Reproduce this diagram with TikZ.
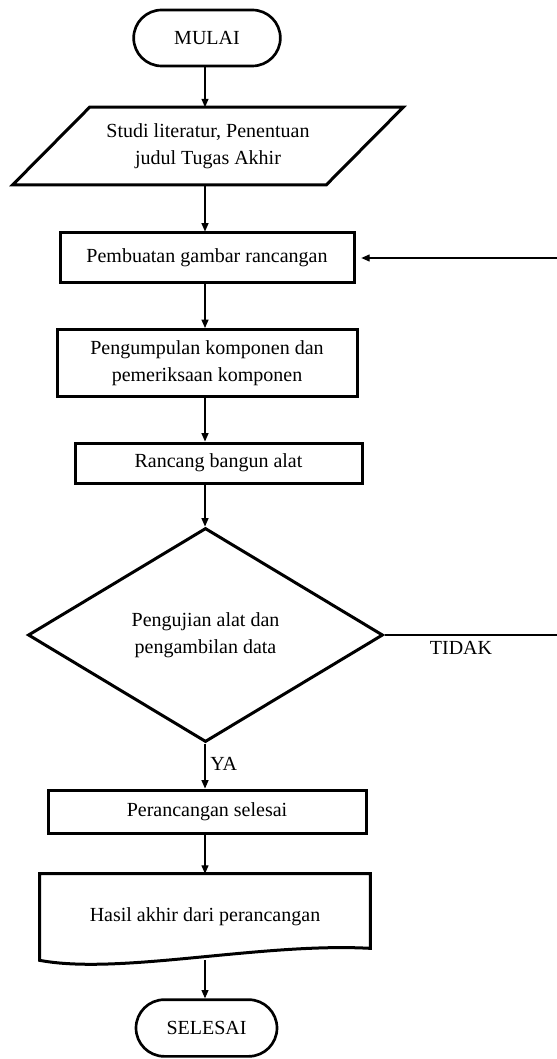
\documentclass[tikz,border=0pt]{standalone}
\usepackage{fontspec}
\setmainfont{Liberation Serif}
\usetikzlibrary{arrows.meta,positioning,shapes.geometric,shapes.misc}

\begin{document}
\begin{tikzpicture}[x=0.6pt,y=-0.6pt,
  font=\fontsize{12}{16}\selectfont,
  every node/.style={align=center,inner sep=0pt},
  box/.style={draw,rectangle,line width=1.8pt},
  terminal/.style={draw,rounded rectangle,line width=1.6pt},
  arr/.style={line width=0.7pt,-{Triangle[length=5pt,width=4.2pt]}}]
  \useasboundingbox (0,0) rectangle (556,1059);
  \coordinate (axis) at (205,0);

  % Start and input
  \node[terminal,minimum width=88pt,minimum height=33.6pt] (mulai) at (207,38) {MULAI};
  \node[minimum width=187.8pt,minimum height=46.2pt] (lit) at (208,146)
    {Studi literatur, Penentuan\\judul Tugas Akhir};
  \draw[line width=1.8pt] ([shift={(-38.5,0)}]lit.south west) -- ([shift={(38.5,0)}]lit.north west)
    -- ([shift={(38.5,0)}]lit.north east) -- ([shift={(-38.5,0)}]lit.south east) -- cycle;

  % Process steps
  \node[box,minimum width=176.4pt,minimum height=30pt] (gambar) at (207,258) {Pembuatan gambar rancangan};
  \node[box,minimum width=180pt,minimum height=40.2pt] (kumpul) at (207,363)
    {Pengumpulan komponen dan\\pemeriksaan komponen};
  \node[box,minimum width=172.2pt,minimum height=24pt] (rancang) at (218.5,463) {Rancang bangun alat};

  % Decision
  \node[draw,diamond,line width=1.8pt,minimum width=213pt,minimum height=128.4pt] (uji) at (205.5,635)
    {Pengujian alat dan\\pengambilan data};

  \node[box,minimum width=190.8pt,minimum height=25.8pt] (akhir) at (207,811.5) {Perancangan selesai};

  % Document shape
  \node[minimum width=198pt,minimum height=51.6pt] (hasil) at (205,917) {Hasil akhir dari perancangan};
  \draw[line width=1.8pt] (hasil.south west) -- (hasil.north west) -- (hasil.north east)
    -- ([shift={(0,-12)}]hasil.south east)
    .. controls ([shift={(-110,-18)}]hasil.south east) and ([shift={(80,15)}]hasil.south west) .. (hasil.south west) -- cycle;

  \node[terminal,minimum width=84.6pt,minimum height=34pt] (selesai) at (206.5,1028) {SELESAI};

  % Connectors
  \foreach \a/\b in {mulai/lit,lit/gambar,gambar/kumpul,kumpul/rancang,rancang/uji,uji/akhir,akhir/hasil,hasil/selesai}
    \draw[arr] (axis |- \a.south) -- (axis |- \b.north);

  % Loop back
  \coordinate (back) at (600,258);
  \draw[arr,shorten >=3.5pt] (uji.east) -| (back) |- (gambar.east);

  \node[anchor=west] (ya) at (210,764) {YA};
  \node (tidak) at (461,648) {TIDAK};
\end{tikzpicture}
\end{document}
